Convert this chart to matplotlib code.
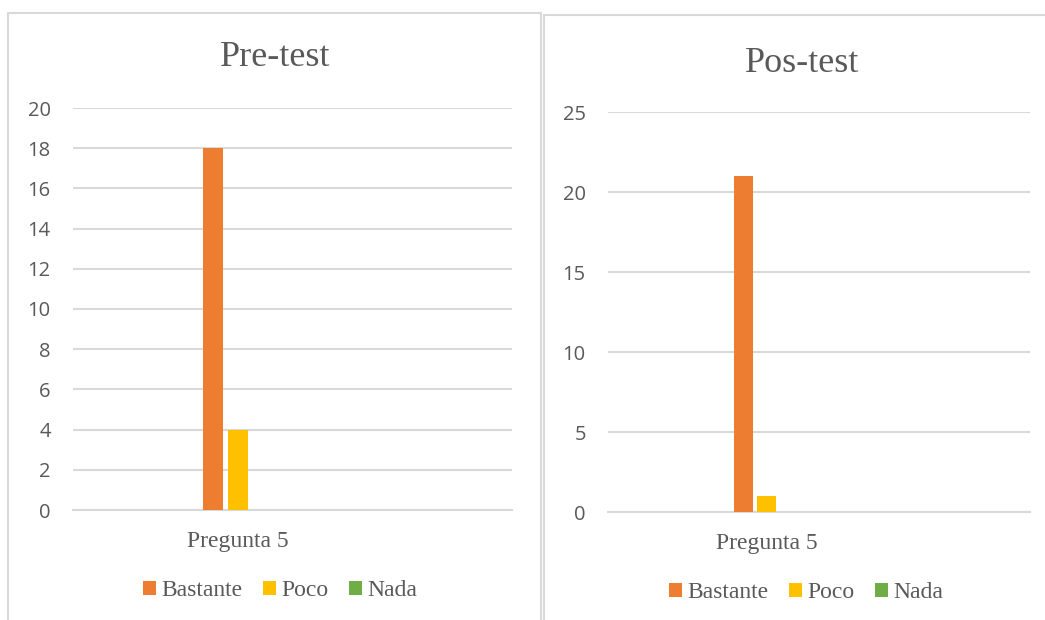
import matplotlib
matplotlib.use('Agg')
import matplotlib.pyplot as plt
from matplotlib.patches import Rectangle, Patch

series = ['Bastante', 'Poco', 'Nada']
colors = ['#ED7D31', '#FFC000', '#70AD47']
category = 'Pregunta 5'
pre_values = [18, 4, 0]
pos_values = [21, 1, 0]
pre_ticks = [0, 2, 4, 6, 8, 10, 12, 14, 16, 18, 20]
pos_ticks = [0, 5, 10, 15, 20, 25]

W, H = 1045, 620
TEXT = '#595959'
GRID = '#D9D9D9'
SERIF = 'Liberation Serif'
SANS = 'Open Sans'


def px_rect(x0, y0, x1, y1):
    # pixel box (top-left origin) -> figure fraction [left, bottom, width, height]
    return [x0 / W, 1 - y1 / H, (x1 - x0) / W, (y1 - y0) / H]


def draw_panel(fig, box, ax_box, values, ticks, xlim, width, title, title_xy, legend_xy):
    bx0, by0, bx1, by1 = box
    fig.patches.append(Rectangle((bx0 / W, 1 - by1 / H), (bx1 - bx0) / W, (by1 - by0) / H,
                                 transform=fig.transFigure, fill=False,
                                 edgecolor=GRID, linewidth=1.5))
    fig.text(title_xy[0] / W, 1 - title_xy[1] / H, title, family=SERIF,
             fontsize=26, color=TEXT, ha='center', va='center')

    ax = fig.add_axes(px_rect(*ax_box))
    offsets = [-1, 0, 1]
    for off, val, col in zip(offsets, values, colors):
        ax.bar(off, val, width=width, color=col, zorder=3)
    ax.set_xlim(*xlim)
    ax.set_ylim(ticks[0], ticks[-1])
    ax.set_yticks(ticks)
    ax.set_yticklabels([str(t) for t in ticks], family=SANS, fontsize=14.5, color=TEXT)
    ax.set_xticks([0])
    ax.set_xticklabels([category], family=SERIF, fontsize=17, color=TEXT)
    ax.tick_params(axis='y', length=0, pad=16)
    ax.tick_params(axis='x', length=0, pad=15)
    ax.grid(axis='y', color=GRID, linewidth=1.5, zorder=0)
    for side in ['top', 'right', 'left']:
        ax.spines[side].set_visible(False)
    ax.spines['bottom'].set_color(GRID)
    ax.spines['bottom'].set_linewidth(1.5)

    handles = [Patch(facecolor=c, edgecolor='none') for c in colors]
    leg = fig.legend(handles, series, loc='center', ncol=3,
                     bbox_to_anchor=(legend_xy[0] / W, 1 - legend_xy[1] / H),
                     frameon=False, fontsize=17,
                     handlelength=0.55, handleheight=0.55,
                     handletextpad=0.25, columnspacing=0.85, borderpad=0)
    for t in leg.get_texts():
        t.set_family(SERIF)
        t.set_color(TEXT)
    return ax


fig = plt.figure(figsize=(W / 100, H / 100), dpi=100)
fig.patch.set_facecolor('white')

draw_panel(fig, (8, 13, 541, 640), (73, 108, 512, 510), pre_values, pre_ticks,
           (-6.6, 10.96), 0.8, 'Pre-test', (275, 58), (280, 591))
draw_panel(fig, (544, 15, 1070, 640), (608, 112, 1030, 512), pos_values, pos_ticks,
           (-6.89, 11.46), 0.83, 'Pos-test', (802, 63), (806, 593))

fig.savefig('out.png', dpi=100)
